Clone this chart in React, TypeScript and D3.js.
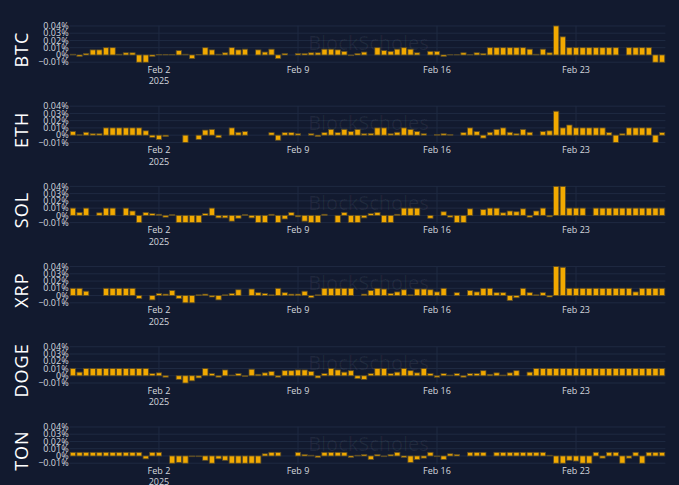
import React from "react";
import * as d3 from "d3";

// funding rates, % per 8h, starting 2025-01-28 16:00 UTC
const START = Date.UTC(2025, 0, 28, 16);
const STEP_MS = 8 * 3600 * 1000;

const coins = ["BTC", "ETH", "SOL", "XRP", "DOGE", "TON"];

const btc = [
  0.001, -0.002, 0.002, 0.007, 0.007, 0.01, 0.01, 0.001, 0.003, 0.003,
  -0.01, -0.01, -0.002, 0.0005, 0.0005, 0.0005, 0.006, 0.001, -0.005, 0.0005,
  0.01, 0.007, 0.001, 0.003, 0.01, 0.007, 0.008, null, 0.007, 0.004,
  0.008, -0.005, 0.002, 0, 0.002, 0.002, 0.003, 0.003, 0.008, 0.008,
  0.007, 0.005, -0.001, 0.002, 0.004, 0, 0.01, 0.006, 0.005, 0.008,
  0.01, 0.008, 0.003, 0, 0.005, 0.005, -0.002, 0.0003, 0.0003, 0.003,
  0.0003, 0.003, 0.002, 0.01, 0.01, 0.01, 0.01, 0.01, 0.01, 0.008,
  0.001, 0.008, 0.003, 0.04, 0.025, 0.01, 0.01, 0.01, 0.01, 0.01,
  0.01, 0.01, 0.01, null, 0.01, 0.01, 0.01, 0.01, -0.01, -0.01,
];

const eth = [
  0.005, 0.0005, 0.004, 0.002, 0.002, 0.01, 0.01, 0.01, 0.01, 0.01,
  0.01, 0.006, -0.003, -0.006, -0.002, 0, 0, -0.01, null, -0.006,
  0.007, 0.008, -0.0035, 0, 0.01, 0.004, 0.005, 0, 0, 0,
  0.0035, -0.007, 0.0035, 0.0035, 0.002, 0, 0.002, -0.002, 0.0035, 0.008,
  0.0035, 0.008, 0.005, 0.008, 0.002, 0.0025, 0.01, 0.01, 0.002, 0.004,
  0.01, 0.008, 0.005, 0.002, 0, 0.001, 0.002, 0.001, 0, 0.0035,
  0.01, 0.005, -0.004, 0.004, 0.008, 0.01, 0.004, 0.002, 0.008, 0.004,
  0, 0.005, 0.006, 0.033, 0.01, 0.014, 0.01, 0.01, 0.01, 0.01,
  0.01, 0.0035, -0.01, 0.002, 0.01, 0.01, 0.01, 0.01, -0.01, 0.0035,
];

const sol = [
  0.01, 0.004, 0.01, 0, 0.0035, 0.01, 0.01, 0, 0.01, 0.006,
  -0.01, 0.004, 0.0025, 0.0015, -0.0025, 0.001, -0.01, -0.01, -0.01, -0.01,
  0.0025, 0.01, -0.0035, -0.0035, -0.008, -0.004, 0.001, -0.0035, -0.01, -0.01,
  0.0015, -0.01, -0.005, 0.004, -0.002, -0.008, -0.01, -0.01, 0.0015, 0,
  -0.01, 0.004, -0.01, -0.01, -0.0035, 0.0025, 0.004, -0.01, -0.01, 0.0015,
  0.01, 0.01, 0.01, 0, -0.004, 0, 0.005, -0.0025, -0.01, -0.01,
  0.009, 0, 0.008, 0.01, 0.01, 0.0035, 0.006, 0.005, 0.009, -0.0025,
  0.006, 0.01, -0.002, 0.04, 0.04, 0.01, 0.01, 0.01, 0, 0.01,
  0.01, 0.01, 0.01, 0.01, 0.01, 0.01, 0.01, 0.01, 0.01, 0.01,
];

const xrp = [
  0.01, 0.01, 0.006, 0, 0, 0.01, 0.01, 0.01, 0.01, 0.01,
  -0.004, 0, -0.006, 0.003, 0.002, 0.007, -0.004, -0.01, -0.01, 0.001,
  0.002, -0.002, -0.006, 0.001, 0.003, 0.008, 0, 0.009, 0.004, 0.003,
  0.001, 0.01, 0.004, 0.002, 0.002, 0.006, -0.003, 0.001, 0.01, 0.01,
  0.01, 0.01, 0.01, 0, 0.002, 0.007, 0.01, 0.009, 0.003, 0.005,
  0.008, 0.001, 0.009, 0.009, 0.008, 0.005, 0.01, 0, 0.004, 0,
  0.007, 0.005, 0.01, 0.01, 0.004, 0.004, -0.007, -0.003, 0.01, 0.004,
  0.001, 0.004, -0.002, 0.04, 0.039, 0.01, 0.01, 0.01, 0.01, 0.01,
  0.01, 0.01, 0.01, 0.01, 0.01, 0.005, 0.01, 0.01, 0.01, 0.01,
];

const doge = [
  0.01, 0.005, 0.01, 0.01, 0.01, 0.01, 0.01, 0.01, 0.01, 0.01,
  0.01, 0.01, 0.003, 0.004, -0.002, 0, -0.005, -0.01, -0.007, -0.003,
  0.01, 0.003, -0.002, 0.008, 0.001, 0.003, -0.001, 0.009, 0.002, 0.004,
  0.006, -0.002, 0.007, 0.007, 0.008, 0.008, 0.006, -0.003, 0.003, 0.01,
  0.008, 0.005, 0.007, -0.004, -0.005, 0.003, 0.01, 0.01, 0.003, 0.005,
  0.01, 0.007, 0.004, 0.01, 0.003, -0.002, 0.003, 0.001, 0.003, -0.002,
  0.003, 0.003, 0.007, 0.002, 0.004, 0.001, 0.004, 0.007, 0, 0.005,
  0.01, 0.01, 0.01, 0.01, 0.01, 0.01, 0.01, 0.01, 0.01, 0.01,
  0.01, 0.01, 0.01, 0.01, 0.01, 0.01, 0.01, 0.01, 0.01, 0.01,
];

const ton = [
  0.005, 0.005, 0.005, 0.005, 0.005, 0.005, 0.005, 0.005, 0.005, 0.005,
  0.005, -0.004, 0.005, 0.005, 0, -0.01, -0.009, -0.01, -0.001, -0.001,
  -0.006, -0.01, -0.004, -0.006, -0.01, -0.01, -0.01, -0.01, -0.01, 0.003,
  0.005, 0.005, 0, 0, 0.005, 0.002, 0.001, -0.002, 0.005, 0.005,
  0.005, 0.005, -0.002, 0.001, 0.002, -0.005, 0.002, -0.001, 0.002, 0.005,
  -0.002, -0.009, -0.005, -0.003, 0.005, -0.001, -0.005, 0.003, 0.002, 0,
  0.005, 0.005, 0.005, 0, 0.005, 0.005, 0.005, 0.005, 0.005, 0.005,
  0.005, 0.005, 0.001, -0.01, -0.01, -0.006, -0.007, -0.01, -0.01, 0.005,
  -0.003, 0.005, 0.005, -0.01, -0.003, 0.005, -0.01, 0.005, 0.005, 0.005,
];

const series = [btc, eth, sol, xrp, doge, ton];

const yTicks = [0.04, 0.03, 0.02, 0.01, 0, -0.01];
const xTicks = [new Date(Date.UTC(2025, 1, 2)), new Date(Date.UTC(2025, 1, 9)), new Date(Date.UTC(2025, 1, 16)), new Date(Date.UTC(2025, 1, 23))];

const W = 679;
const H = 485;
const BG = "#121a2f";
const GRID = "#1f2a42";
const TEXT = "#d4d7de";
const BAR = "#f2a900";
const BAR_EDGE = "#5a4b25";
const FONT = "'Open Sans', 'DejaVu Sans', sans-serif";

const plotLeft = 69.6;
const plotRight = 665.4;
const panelTop0 = 25.6;
const panelStep = 80.2;
const panelH = 37.7;

const fmtPct = (v: number) => (v === 0 ? "0%" : (v < 0 ? "\u2212" : "") + Math.abs(v).toFixed(2) + "%");

function Panel({ name, values, top }: { name: string; values: (number | null)[]; top: number }) {
  const times = values.map((_, i) => new Date(START + i * STEP_MS));
  const x = d3.scaleUtc()
    .domain([new Date(START - STEP_MS / 2), new Date(START + (values.length - 0.5) * STEP_MS)])
    .range([plotLeft, plotRight]);
  const y = d3.scaleLinear().domain([-0.0115, 0.0405]).range([top + panelH, top]);
  const bw = (x(new Date(START + STEP_MS)) - x(new Date(START))) * 0.8;
  const mid = (plotLeft + plotRight) / 2;

  return (
    <g>
      {yTicks.map((t) => (
        <line key={"h" + t} x1={plotLeft} x2={plotRight} y1={y(t)} y2={y(t)} stroke={GRID} strokeWidth={1} />
      ))}
      {xTicks.map((t) => (
        <line key={"v" + t.getTime()} x1={x(t)} x2={x(t)} y1={top} y2={top + panelH} stroke={GRID} strokeWidth={1} />
      ))}
      <text x={mid + 1} y={top + 24} textAnchor="middle" fontFamily={FONT} fontSize={20} fill="rgba(255,255,255,0.06)">
        BlockScholes
      </text>
      {values.map((v, i) => {
        if (v === null) return null;
        const cx = x(times[i]);
        const y0 = y(0);
        const y1 = y(v);
        return (
          <rect
            key={i}
            x={cx - bw / 2}
            y={Math.min(y0, y1)}
            width={bw}
            height={Math.abs(y1 - y0)}
            fill={BAR}
            stroke={BAR_EDGE}
            strokeWidth={0.8}
          />
        );
      })}
      {yTicks.map((t) => (
        <text key={"yl" + t} x={plotLeft - 1} y={y(t)} dy="0.35em" textAnchor="end" fontFamily={FONT} fontSize={9} fill={TEXT}>
          {fmtPct(t)}
        </text>
      ))}
      {xTicks.map((t, i) => (
        <g key={"xl" + t.getTime()}>
          <text x={x(t)} y={top + panelH + 9.5} textAnchor="middle" fontFamily={FONT} fontSize={9} fill={TEXT}>
            {d3.utcFormat("%b %-d")(t)}
          </text>
          {i === 0 && (
            <text x={x(t)} y={top + panelH + 21} textAnchor="middle" fontFamily={FONT} fontSize={9} fill={TEXT}>
              2025
            </text>
          )}
        </g>
      ))}
      <text
        transform={`translate(28,${top + 24}) rotate(-90)`}
        textAnchor="middle"
        fontFamily={FONT}
        fontSize={18}
        letterSpacing={1}
        fill="#ffffff"
      >
        {name}
      </text>
    </g>
  );
}

export default function App() {
  return (
    <div style={{ position: "fixed", left: 0, top: 0, width: W, height: H, background: BG }}>
      <svg width={W} height={H} style={{ display: "block" }}>
        <rect width={W} height={H} fill={BG} />
        {coins.map((c, i) => (
          <Panel key={c} name={c} values={series[i]} top={panelTop0 + i * panelStep} />
        ))}
      </svg>
    </div>
  );
}
